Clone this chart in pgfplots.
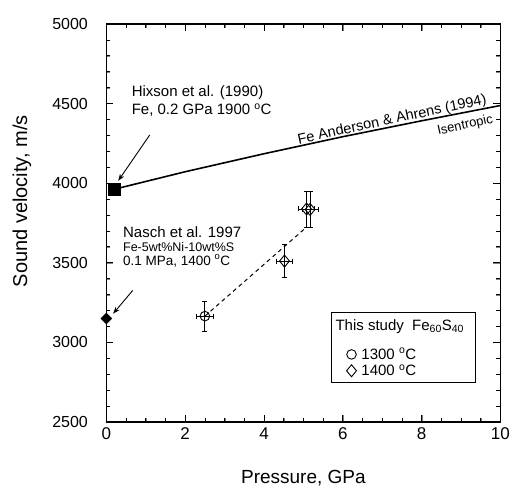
\documentclass[border=0pt]{standalone}
\usepackage{fontspec}
\setmainfont{Liberation Sans}
\usepackage{pgfplots}
\pgfplotsset{compat=1.18}
\usetikzlibrary{calc,arrows.meta}

\newcommand{\fs}[1]{\fontsize{#1bp}{#1bp}\selectfont}

\begin{document}
\begin{tikzpicture}
\begin{axis}[
    scale only axis,
    width=394bp, height=398bp,
    xmin=0, xmax=10, ymin=2500, ymax=5000,
    xtick={0,2,...,10}, ytick={2500,3000,...,5000},
    minor x tick num=3, minor y tick num=4,
    tick align=inside,
    major tick length=7bp, minor tick length=4bp,
    /pgf/number format/assume math mode=true,
    /pgf/number format/1000 sep={},
    xticklabel style={font=\fs{17}, yshift=-2bp},
    yticklabel style={font=\fs{16}, xshift=-15bp},
    xlabel={Pressure, GPa},
    ylabel={Sound velocity, m/s},
    xlabel style={font=\fs{19}, at={(axis description cs:0.5,-0.14)}, anchor=center},
    ylabel style={font=\fs{20}, at={(axis description cs:-0.214,0.555)}, anchor=center},
    clip=false,
    legend style={at={(axis cs:5.71,2977)}, anchor=north west,
        draw=none, fill=none, inner xsep=15bp, inner ysep=0bp,
        font=\fs{15}, row sep=0bp},
    legend cell align=left,
]
% Anderson & Ahrens isentrope
\addplot[black, line width=1.6bp, forget plot] coordinates {
    (0.2,3962) (2,4072) (4,4185) (6,4292) (8,4392) (10,4488)
};
% Hixson et al. (1990)
\addplot[only marks, mark=square*, mark size=6.3bp, black, forget plot] coordinates {(0.2,3962)};
% Nasch et al. 1997
\addplot[only marks, mark=diamond*, mark size=5.5bp, mark options={xscale=1.33}, black, forget plot] coordinates {(0,3150)};
% trend of this study
\addplot[black, line width=1bp, dash pattern=on 4bp off 3.5bp, forget plot] coordinates {
    (2.5,3165) (5.07,3722)
};
% this study, 1300 C
\addplot[only marks, black, mark=o, mark size=4.8bp, mark options={fill=white, line width=0.9bp}, forget plot,
    error bars/.cd, x dir=both, x explicit, y dir=both, y explicit,
    error mark options={rotate=90, mark size=2.5bp, line width=0.9bp},
    error bar style={line width=0.9bp}] coordinates {
    (2.5,3165) +- (0.21,95)
};
% this study, 1400 C
\addplot[only marks, black, mark=diamond, mark size=6bp, mark options={xscale=1.1, fill=white, line width=0.9bp}, forget plot,
    error bars/.cd, x dir=both, x explicit, y dir=both, y explicit,
    error mark options={rotate=90, mark size=2.5bp, line width=0.9bp},
    error bar style={line width=0.9bp}] coordinates {
    (4.52,3511) +- (0.2,105)
    (5.17,3835) +- (0.2,113)
    (5.08,3838) +- (0.2,113)
};
\addlegendimage{only marks, mark=o, mark size=4.8bp, mark options={line width=0.9bp}}
\addlegendentry{\hspace{3bp}1300 \textsuperscript{o}C}
\addlegendimage{only marks, mark=diamond, mark size=6bp, mark options={xscale=1.1, line width=0.9bp}}
\addlegendentry{\hspace{3bp}1400 \textsuperscript{o}C}

% legend frame and title
\draw[line width=0.5bp] (axis cs:5.71,3191) rectangle (axis cs:9.35,2751);
\node[anchor=west, inner sep=0pt, font=\fs{15}] at (axis cs:5.81,3099) {This study\ \ Fe\textsubscript{60}S\textsubscript{40}};

% tick marks, drawn inside on all four sides (4bp minor, 7bp major)
\pgfplotsinvokeforeach{0.5,1,1.5,2.5,3,3.5,4.5,5,5.5,6.5,7,7.5,8.5,9,9.5}{
    \draw[line width=0.8bp] (axis cs:#1,2500) -- (axis cs:#1,2525);
    \draw[line width=0.8bp] (axis cs:#1,5000) -- (axis cs:#1,4975);
}
\pgfplotsinvokeforeach{2,4,6,8}{
    \draw[line width=0.8bp] (axis cs:#1,2500) -- (axis cs:#1,2544);
    \draw[line width=0.8bp] (axis cs:#1,5000) -- (axis cs:#1,4956);
}
\pgfplotsinvokeforeach{2600,2700,2800,2900,3100,3200,3300,3400,3600,3700,3800,3900,4100,4200,4300,4400,4600,4700,4800,4900}{
    \draw[line width=0.8bp] (axis cs:0,#1) -- (axis cs:0.1,#1);
    \draw[line width=0.8bp] (axis cs:10,#1) -- (axis cs:9.9,#1);
}
\pgfplotsinvokeforeach{3000,3500,4000,4500}{
    \draw[line width=0.8bp] (axis cs:0,#1) -- (axis cs:0.177,#1);
    \draw[line width=0.8bp] (axis cs:10,#1) -- (axis cs:9.823,#1);
}

% axis frame
\draw[line width=1.6bp] (rel axis cs:0,0) rectangle (rel axis cs:1,1);

% annotations
\node[anchor=west, inner sep=0pt, font=\fs{15}] at (axis cs:0.64,4568) {Hixson et al. (1990)};
\node[anchor=west, inner sep=0pt, font=\fs{15}] at (axis cs:0.64,4460) {Fe, 0.2 GPa 1900 \textsuperscript{o}C};
\draw[-{Stealth[length=7bp,width=5bp]}, line width=0.9bp] (axis cs:1.10,4303) -- (axis cs:0.30,4015);

\node[anchor=west, inner sep=0pt, font=\fs{15}] at (axis cs:0.42,3690) {Nasch et al. 1997};
\node[anchor=west, inner sep=0pt, font=\fs{12.5}] at (axis cs:0.42,3600) {Fe-5wt\%Ni-10wt\%S};
\node[anchor=west, inner sep=0pt, font=\fs{13.5}] at (axis cs:0.42,3512) {0.1 MPa, 1400 \textsuperscript{o}C};
\draw[-{Stealth[length=7bp,width=5bp]}, line width=0.9bp] (axis cs:0.67,3327) -- (axis cs:0.17,3180);

\node[rotate=12.1, anchor=south, inner sep=2bp, font=\fs{14.5}] at (axis cs:7.3,4341) {Fe Anderson \& Ahrens (1994)};
\node[rotate=12.1, anchor=north, inner sep=4bp, font=\fs{13}] at (axis cs:9.05,4425) {Isentropic};
\end{axis}
\pgfresetboundingbox
\path[use as bounding box] ($(current axis.south west)+(-106.4bp,-68bp)$) rectangle ($(current axis.south west)+(408.6bp,422bp)$);
\end{tikzpicture}
\end{document}
